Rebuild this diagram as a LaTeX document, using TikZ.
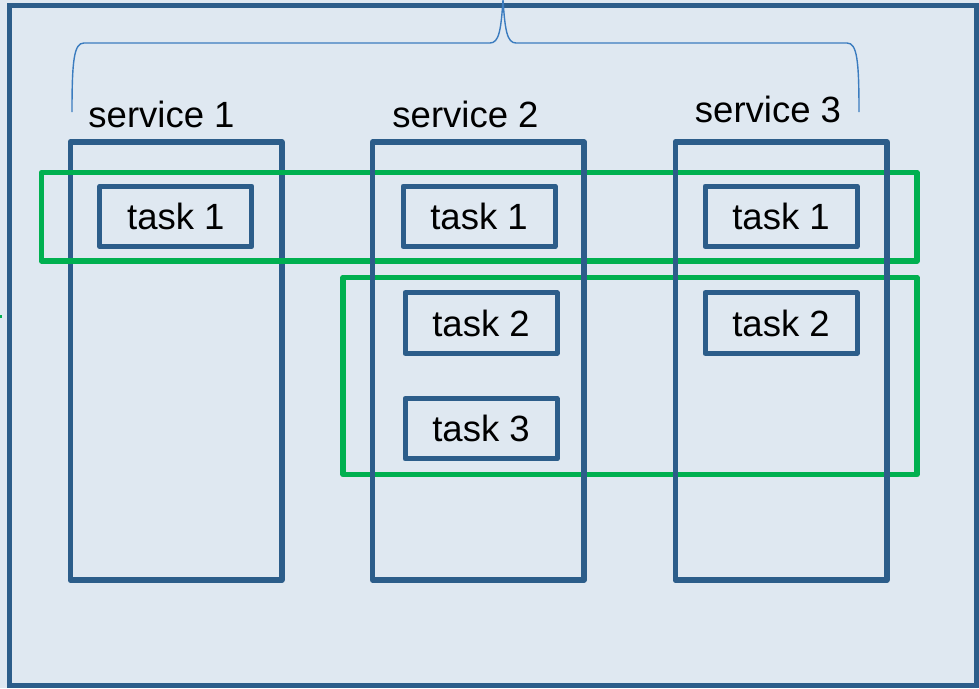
\documentclass[tikz,border=0pt]{standalone}
\usepackage{fontspec}
\setmainfont{Liberation Sans}
\definecolor{paneFill}{HTML}{DFE8F1}
\definecolor{frameBlue}{HTML}{2C5D8A}
\definecolor{braceBlue}{HTML}{3B7CBF}
\definecolor{groupGreen}{HTML}{00B050}
\begin{document}
\begin{tikzpicture}[x=1pt,y=-1pt,
  svcbox/.style={draw=frameBlue,line width=5.5pt,line join=round,minimum width=211.5pt,minimum height=438pt,inner sep=0pt},
  taskbox/.style={draw=frameBlue,line width=5pt,line join=round,minimum width=152pt,minimum height=60.5pt,inner sep=0pt,
    font=\fontsize{36.5}{40}\selectfont},
  grpbox/.style={draw=groupGreen,line width=5.5pt,line join=round,inner sep=0pt},
  svclabel/.style={font=\fontsize{36.5}{40}\selectfont,inner sep=0pt,anchor=base}]
% background and outer frame
\fill[paneFill] (0,0) rectangle (979,688);
\useasboundingbox (0,0) rectangle (979,688);
\draw[frameBlue,line width=5pt] (9.5,5.5) rectangle (976.5,685.5);
\draw[groupGreen,line width=3pt] (0,316) -- (2,316);
% brace over the services
\coordinate (bl) at (72,112);
\coordinate (br) at (859,112);
\coordinate (bt) at (503,0);
\draw[braceBlue,line width=1.4pt]
  (bl) .. controls (72,60) and (74,43) .. (84,43) -- (490,43)
  .. controls (499,43) and (501,30) .. (bt)
  .. controls (505,30) and (507,43) .. (516,43) -- (847,43)
  .. controls (857,43) and (859,60) .. (br);
% first service column, then the groupings, then the other columns
\node[svcbox] (s1) at (176,361) {};
\node[grpbox,minimum width=875.5pt,minimum height=88.5pt] (g1) at (479.2,216.7) {};
\node[grpbox,minimum width=574pt,minimum height=197pt] (g2) at (630,376) {};
\node[svcbox] (s2) at (478.3,361) {};
\node[svcbox] (s3) at (781,361) {};
\node[svclabel] (l1) at (161.5,127) {service 1};
\node[svclabel] (l2) at (465.5,127) {service 2};
\node[svclabel] (l3) at (768,122) {service 3};
% tasks
\node[taskbox] (t11) at (175.8,216.3) {task 1};
\node[taskbox] (t21) at (479,216.3) {task 1};
\node[taskbox] (t22) at (481,323) {task 2};
\node[taskbox] (t23) at (481,428.7) {task 3};
\node[taskbox] (t31) at (781,216.3) {task 1};
\node[taskbox] (t32) at (781,323) {task 2};
\end{tikzpicture}
\end{document}
